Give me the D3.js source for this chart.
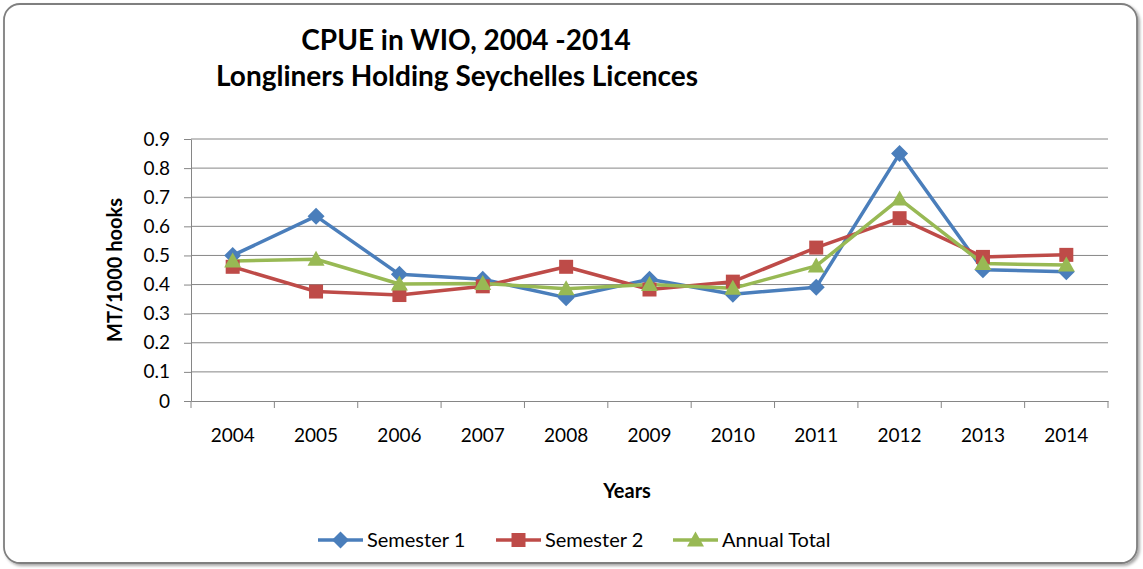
<!DOCTYPE html>
<html>
<head>
<meta charset="utf-8">
<script src="https://cdn.jsdelivr.net/npm/d3@7"></script>
<style>
  html, body { margin: 0; padding: 0; background: #fff; }
  #svg-container { width: 1143px; height: 569px; }
  text { font-family: Lato, "Open Sans", sans-serif; fill: #000; }
</style>
</head>
<body>
<div id="svg-container"></div>
<script>
// data
const years = ["2004", "2005", "2006", "2007", "2008", "2009", "2010", "2011", "2012", "2013", "2014"];
const semester1 = [0.50, 0.635, 0.435, 0.418, 0.355, 0.418, 0.367, 0.391, 0.85, 0.451, 0.444];
const semester2 = [0.461, 0.376, 0.364, 0.394, 0.461, 0.383, 0.41, 0.527, 0.628, 0.495, 0.502];
const annualTotal = [0.481, 0.487, 0.402, 0.404, 0.386, 0.40, 0.387, 0.464, 0.694, 0.472, 0.467];
const yTicks = [0, 0.1, 0.2, 0.3, 0.4, 0.5, 0.6, 0.7, 0.8, 0.9];
const seriesNames = ["Semester 1", "Semester 2", "Annual Total"];
const colors = ["#4A7EBB", "#BE4B48", "#98B954"];

const width = 1143, height = 569;
const margin = { top: 139, right: 35, bottom: 168, left: 191 };

const svg = d3.select("#svg-container").append("svg")
  .attr("width", width).attr("height", height);

// 바깥 프레임 (그림자 + 둥근 테두리)
const defs = svg.append("defs");
const f = defs.append("filter").attr("id", "shadow").attr("x", "-5%").attr("y", "-5%").attr("width", "110%").attr("height", "110%");
f.append("feDropShadow").attr("dx", 2).attr("dy", 2).attr("stdDeviation", 1.5).attr("flood-color", "#000").attr("flood-opacity", 0.35);

svg.append("rect")
  .attr("x", 4).attr("y", 4).attr("width", 1133).attr("height", 559)
  .attr("rx", 16).attr("ry", 16)
  .attr("fill", "#fff").attr("stroke", "#7f7f7f").attr("stroke-width", 1.8)
  .attr("filter", "url(#shadow)");

// scale
const xScale = d3.scaleBand().domain(years).range([margin.left, width - margin.right]);
const yScale = d3.scaleLinear().domain([0, 0.9]).range([height - margin.bottom, margin.top]);

// gridlines
svg.append("g").attr("class", "grid")
  .selectAll("line").data(yTicks.slice(1)).join("line")
  .attr("x1", margin.left).attr("x2", width - margin.right)
  .attr("y1", d => yScale(d)).attr("y2", d => yScale(d))
  .attr("stroke", "#868686").attr("stroke-width", 1);

// axis
const yAxis = d3.axisLeft(yScale).tickValues(yTicks).tickFormat(d => d3.format("")(+d.toFixed(1))).tickSize(7).tickSizeOuter(0);
const gy = svg.append("g").attr("class", "y-axis")
  .attr("transform", `translate(${margin.left},0)`).call(yAxis);
gy.select(".domain").attr("stroke", "#868686");
gy.selectAll(".tick line").attr("stroke", "#868686");
gy.selectAll(".tick text").attr("font-size", 19).attr("x", -21).style("font-family", "Lato, sans-serif");

const xAxis = d3.axisBottom(xScale).tickSize(0).tickSizeOuter(0);
const gx = svg.append("g").attr("class", "x-axis")
  .attr("transform", `translate(0,${height - margin.bottom})`).call(xAxis);
gx.select(".domain").attr("stroke", "#868686");
gx.selectAll(".tick text").attr("font-size", 19).attr("y", 28).style("font-family", "Lato, sans-serif");
// 카테고리 경계 tick
gx.selectAll(".bound").data(years.concat(["end"])).join("line")
  .attr("class", "bound")
  .attr("x1", (d, i) => margin.left + i * xScale.bandwidth())
  .attr("x2", (d, i) => margin.left + i * xScale.bandwidth())
  .attr("y1", 0).attr("y2", 7).attr("stroke", "#868686");

// markers: 엑셀식 마름모(정사각형 45도 회전), 사각형, 삼각형
const markerPath = [
  () => "M0,-8.5L8.5,0L0,8.5L-8.5,0Z",
  () => "M-7,-7H7V7H-7Z",
  () => "M0,-8.5L8.5,6.5L-8.5,6.5Z"
];

// lines
const allSeries = [semester1, semester2, annualTotal];
const line = d3.line()
  .x((d, i) => xScale(years[i]) + xScale.bandwidth() / 2)
  .y(d => yScale(d));

allSeries.forEach((s, k) => {
  svg.append("path").datum(s)
    .attr("d", line).attr("fill", "none")
    .attr("stroke", colors[k]).attr("stroke-width", 3.5)
    .attr("stroke-linejoin", "round");
});
allSeries.forEach((s, k) => {
  svg.append("g").selectAll("path").data(s).join("path")
    .attr("transform", (d, i) => `translate(${xScale(years[i]) + xScale.bandwidth() / 2},${yScale(d)})`)
    .attr("d", markerPath[k]())
    .attr("fill", colors[k]);
});

// titles
svg.append("text").attr("x", 466).attr("y", 50).attr("text-anchor", "middle")
  .attr("font-size", 28).attr("font-weight", "bold").text("CPUE in WIO, 2004 -2014");
svg.append("text").attr("x", 457).attr("y", 86).attr("text-anchor", "middle")
  .attr("font-size", 28).attr("font-weight", "bold").text("Longliners Holding Seychelles Licences");

svg.append("text").attr("x", 627).attr("y", 498).attr("text-anchor", "middle")
  .attr("font-size", 20).attr("font-weight", "bold").text("Years");
svg.append("text").attr("transform", "translate(122,270) rotate(-90)").attr("text-anchor", "middle")
  .attr("font-size", 20).attr("font-weight", "bold").text("MT/1000 hooks");

// legend
const legendX = [318, 496, 673];
const legend = svg.append("g").selectAll("g").data(seriesNames).join("g")
  .attr("transform", (d, i) => `translate(${legendX[i]},540)`);
legend.append("line").attr("x1", 0).attr("x2", 45).attr("y1", 0).attr("y2", 0)
  .attr("stroke", (d, i) => colors[i]).attr("stroke-width", 3.5);
legend.append("path").attr("transform", "translate(22.5,0)")
  .attr("d", (d, i) => markerPath[i]())
  .attr("fill", (d, i) => colors[i]);
legend.append("text").attr("x", 49).attr("y", 7).attr("font-size", 20).text(d => d);
</script>
</body>
</html>
